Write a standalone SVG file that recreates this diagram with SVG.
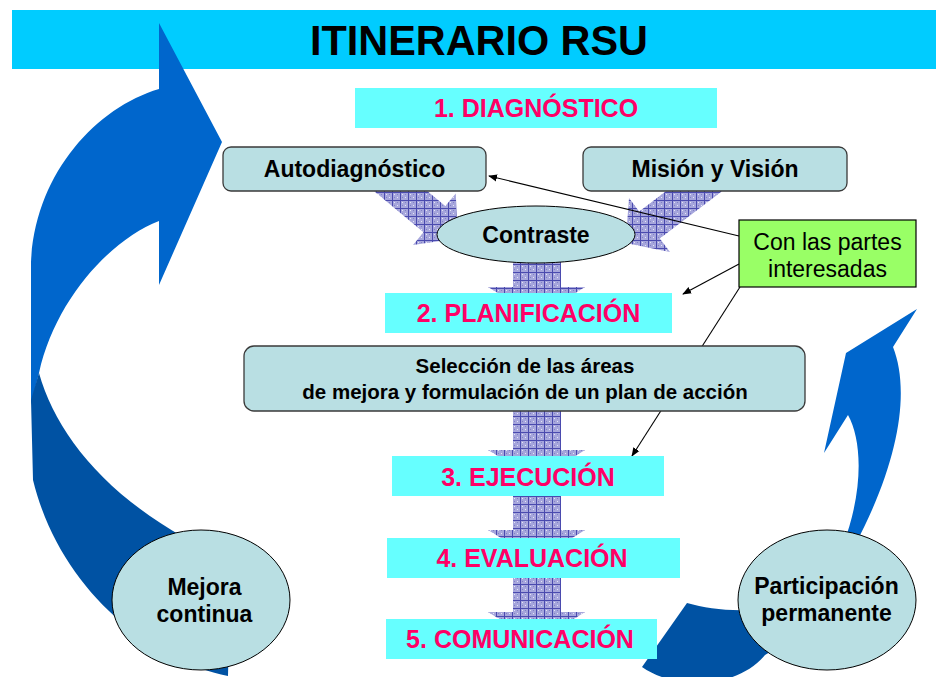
<svg xmlns="http://www.w3.org/2000/svg" width="936" height="677" viewBox="0 0 936 677">
<defs>
<pattern id="hatch" width="8" height="8" patternUnits="userSpaceOnUse">
<rect width="8" height="8" fill="#A6A6DC"/>
<rect x="2" y="2" width="1" height="1" fill="#E6E6F6"/>
<rect x="5" y="5" width="1" height="1" fill="#E6E6F6"/>
<rect x="2" y="5" width="1" height="1" fill="#8080C4"/>
<rect x="5" y="2" width="1" height="1" fill="#8080C4"/>
<path d="M0,0.5H8M0.5,0V8" stroke="#4A4AAE" stroke-width="1"/>
</pattern>
<marker id="ah" viewBox="0 0 10 10" refX="9" refY="5" markerWidth="9" markerHeight="9" markerUnits="userSpaceOnUse" orient="auto">
<path d="M0,1 L10,5 L0,9 Z" fill="#000"/>
</marker>
<style>
.box{fill:#B9DFE3;stroke:#3a3a3a;stroke-width:1.3}
.ell{fill:#B9DFE3;stroke:#000;stroke-width:1}
.lab{fill:#66FFFF}
.t{font-family:"Liberation Sans",Arial,sans-serif;font-weight:bold;font-size:23px;fill:#000;text-anchor:middle}
.pk{font-family:"Liberation Sans",Arial,sans-serif;font-weight:bold;font-size:25px;fill:#FF0066;text-anchor:middle}
.hat{fill:url(#hatch)}
.con{stroke:#000;stroke-width:1.1;fill:none;marker-end:url(#ah)}
</style>
</defs>
<rect id="titlebar" x="12" y="10" width="924" height="59" fill="#00CCFF"/>
<text x="479" y="55" font-family="'Liberation Sans',Arial,sans-serif" font-weight="bold" font-size="43" text-anchor="middle" textLength="338" lengthAdjust="spacingAndGlyphs">ITINERARIO RSU</text>

<g id="left-arrow">
<path d="M159,89 L159,23 L222,142 L159,285 L159,221 C110,240 55,300 39,373 L31,405 L31,262 C35,175 95,108 159,89 Z" fill="#0066CC"/>
<path d="M31,400 L39,373 C55,430 100,490 185,538 L230,580 L228,676 C150,660 60,590 33,480 Z" fill="#0052A3"/>
</g>
<g id="right-arrow">
<path d="M917,309 L893,347 C910,390 900,460 855,545 L843,545 C864,490 862,440 848,415 L824,453 L846,353 Z" fill="#0066CC"/>
<path d="M687,603 C705,608 725,611 750,610 L790,640 L765,655 C735,690 675,690 642,667 Z" fill="#0052A3"/>
</g>

<g id="hatched-arrows">
<polygon class="hat" points="361.9,181.1 423.5,232.3 413,245 457.5,238.4 455.8,193.4 445.3,206.1 383.7,154.9"/>
<polygon class="hat" points="711,157 639.2,211.5 629,198 625.6,243 670,252 659.8,238.5 731.5,184"/>
<polygon class="hat" points="513,255 561,255 561,287 585,287 537,317 488,287 513,287"/>
<polygon class="hat" points="513,405 561,405 561,450 585,450 537,480 488,450 513,450"/>
<polygon class="hat" points="513,490 561,490 561,530 585,530 537,560 488,530 513,530"/>
<polygon class="hat" points="513,572 561,572 561,612 585,612 537,642 488,612 513,612"/>
</g>

<g id="connectors">
<line class="con" x1="739" y1="236" x2="489" y2="176"/>
<line class="con" x1="739" y1="264" x2="683" y2="294"/>
<line class="con" x1="740" y1="287" x2="632" y2="456"/>
</g>

<g id="diagnostico"><rect class="lab" x="355" y="88" width="362" height="40"/><text class="pk" x="536" y="117">1. DIAGNÓSTICO</text></g>
<g id="autodiagnostico"><rect class="box" x="223" y="147" width="263" height="44" rx="8"/><text class="t" x="354.5" y="177">Autodiagnóstico</text></g>
<g id="mision"><rect class="box" x="583" y="147" width="264" height="44" rx="8"/><text class="t" x="715" y="177">Misión y Visión</text></g>
<g id="contraste"><ellipse class="ell" cx="536" cy="234.5" rx="99" ry="28.5"/><text class="t" x="536" y="243">Contraste</text></g>
<g id="partes"><rect x="739" y="220" width="177" height="67" fill="#99FF66" stroke="#000" stroke-width="1.2"/><text class="t" font-weight="normal" style="font-weight:normal" x="827.5" y="250">Con las partes</text><text class="t" style="font-weight:normal" x="827.5" y="277">interesadas</text></g>
<g id="planificacion"><rect class="lab" x="385" y="293" width="287" height="40"/><text class="pk" x="528.5" y="322">2. PLANIFICACIÓN</text></g>
<g id="seleccion"><rect class="box" x="244" y="346" width="561" height="65" rx="10"/><text class="t" style="font-size:20.5px" x="525" y="373">Selección de las áreas</text><text class="t" style="font-size:20.5px" x="525" y="399">de mejora y formulación de un plan de acción</text></g>
<g id="ejecucion"><rect class="lab" x="392" y="456" width="272" height="40"/><text class="pk" x="528" y="486">3. EJECUCIÓN</text></g>
<g id="evaluacion"><rect class="lab" x="387" y="538" width="293" height="40"/><text class="pk" x="532" y="567">4. EVALUACIÓN</text></g>
<g id="comunicacion"><rect class="lab" x="386" y="619" width="271" height="40"/><text class="pk" x="520" y="648">5. COMUNICACIÓN</text></g>
<g id="mejora"><ellipse class="ell" cx="201" cy="600" rx="89" ry="70"/><text class="t" x="204.5" y="595">Mejora</text><text class="t" x="204.5" y="622">continua</text></g>
<g id="participacion"><ellipse class="ell" cx="827" cy="600" rx="89" ry="70"/><text class="t" x="826.5" y="594">Participación</text><text class="t" x="826.5" y="621">permanente</text></g>
</svg>
